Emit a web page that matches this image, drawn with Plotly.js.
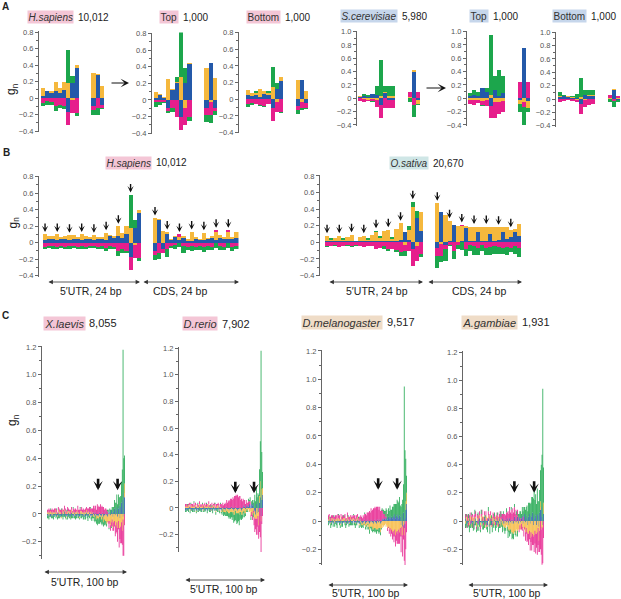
<!DOCTYPE html>
<html><head><meta charset="utf-8">
<script src="https://cdn.plot.ly/plotly-3.0.1.min.js"></script>
<style>html,body{margin:0;padding:0;background:#fff}#plot{width:621px;height:599px}</style>
</head><body><div id="plot"></div>
<script>
// ---------- DATA (g_n values in hundredths; C=blue, G=yellow, T=magenta, A=green) ----------
// Panel B, H.sapiens: 5'UTR positions -24..-1, CDS positions +4..+24
const hsUtrPos = [-24,-23,-22,-21,-20,-19,-18,-17,-16,-15,-14,-13,-12,-11,-10,-9,-8,-7,-6,-5,-4,-3,-2,-1];
const hsUtrC = [3,4,4,3,4,4,3,5,4,3,4,4,3,4,4, 3,8,6,8,6,10,-17,18,36];
const hsUtrG = [7,4,4,7,3,4,6,4,3,7,4,3,6,3,3, 9,1,2,12,6,10,18,-3,4];
const hsUtrT = [-5,-4,-4,-5,-4,-5,-4,-4,-5,-4,-5,-4,-4,-5,-4, -6,-4,-5,-10,-8,-10,-16,-15,-18];
const hsUtrA = [-3,-3,-4,-3,-3,-3,-4,-3,-3,-4,-3,-3,-3,-3,-4, -4,-4,-3,-6,-4,-3,40,9,-4];
const cdsPos = [4,5,6,7,8,9,10,11,12,13,14,15,16,17,18,19,20,21,22,23,24];
const hsCdsC = [-10,28,-8,10,3,7,3,6,2,2,5,3,3,4,6,3,6,5,4,5,6];
const hsCdsG = [30,1,14,3,2,1,4,2,2,11,2,1,9,2,2,10,3,2,9,2,7];
const hsCdsT = [-5,-12,-4,-8,-4,-3,3,-4,-5,-4,-5,-4,-5,-4,-5,2,-4,-5,2,-5,-4];
const hsCdsA = [-6,-8,-1,-9,-3,-5,-5,-8,-4,-6,-4,-5,-6,-5,-4,-6,-5,-4,-6,-5,-4];
// Panel B, O.sativa
const osUtrC = [2,1,1,1,1,1,1,2,1,1,1,1,1,2,1,1,2,2,3,12,3,-8,29,14];
const osUtrG = [6,2,4,6,2,5,8,0,5,6,2,8,11,3,13,14,2,14,20,-3,12,42,-4,22];
const osUtrT = [-5,-4,-3,-6,-4,-3,-5,-3,-4,-6,-5,-4,-8,-7,-5,-8,-8,-9,-12,-8,-10,-20,-18,-14];
const osUtrA = [-1,2,-1,1,2,-1,-1,-1,-1,1,2,-1,2,2,-3,-2,2,-3,-5,-5,5,7,9,-4];
const osCdsC = [-7,37,-3,2,21,0,2,17,1,2,12,1,2,10,1,3,13,4,6,12,7];
const osCdsG = [47,-2,33,24,0,20,18,3,17,17,7,18,17,8,17,15,6,15,9,4,15];
const osCdsT = [-9,-14,-5,-3,-10,-3,1,-8,-3,-5,-7,-3,-7,-6,-4,-6,-7,-6,-7,-5,-7];
const osCdsA = [-15,-8,-15,-1,-10,-5,-9,-8,-7,-10,-8,-8,-8,-9,-10,-8,-7,-9,-5,-9,-11];
// Panel A positions: -9..-1, +4..+6
const aPos = [-9,-8,-7,-6,-5,-4,-3,-2,-1,4,5,6];
const hsTopC = [2,6,2,-10,12,20,-20,20,43,-10,45,-10];
const hsTopG = [8,1,1,25,1,2,28,-10,2,39,-3,27];
const hsTopT = [-3,-2,-2,-3,-10,-20,-16,-20,-20,-8,-15,-3];
const hsTopA = [-5,-4,-2,-3,-5,6,59,18,-5,-8,-10,-5];
const hsBotC = [5,4,5,3,6,5,-10,12,22,-8,23,-5];
const hsBotG = [6,3,3,9,4,2,15,-3,5,23,-3,10];
const hsBotT = [-6,-5,-6,-7,-8,-6,-16,-12,-15,-5,-7,-5];
const hsBotA = [-3,-2,2,-1,-1,3,24,8,-2,-5,-3,-2];
const scC = [2,3,2,6,5,-10,8,-2,-2,0,40,-3];
const scG = [1,-1,-2,-1,-3,4,2,3,3,2,2,-5];
const scT = [-4,-5,-2,-3,-10,-20,-14,-13,-13,8,-10,9];
const scA = [1,4,3,-1,13,54,8,15,15,-6,-18,-2];
const scTopC = [3,5,4,15,10,-12,12,4,8,-3,76,-4];
const scTopG = [-3,-3,-2,-4,-3,5,-6,-5,-4,-5,-5,-10];
const scTopT = [-5,-7,-5,-6,-8,-18,-24,-18,-16,25,-8,25];
const scTopA = [5,7,6,-2,6,90,22,38,25,-12,-27,-6];
const scBotC = [3,4,3,2,2,-8,6,4,5,0,14,-2];
const scBotG = [1,0,1,1,-1,3,-2,2,1,2,1,1];
const scBotT = [-5,-3,-2,-3,-4,-14,-10,-9,-8,4,-3,4];
const scBotA = [6,2,1,1,6,29,7,7,7,-4,-9,-3];
// Panel C: 5'UTR positions -100..-1
const xlC = [-1,-2,1,-1,-2,-1,1,-2,-1,-1, 1,-1,-2,-1,1,-2,-1,-1,-2,1, -1,-1,2,-1,-2,-1,-1,1,-2,-1, -2,1,-1,-1,-2,1,-1,-2,-1,1, -1,-2,-1,1,-1,-1,-2,1,-1,-2, 1,-1,-2,-1,1,-1,-2,-1,-1,1, -1,-2,1,-1,-1,-2,-1,1,-1,-2, -1,1,-2,-1,-1,2,-1,-2,1,-1, 2,-1,3,1,-2,2,4,-1,3,5, -2,4,6,-3,5,8,10,-2,15,12];
const xlG = [1,2,-1,1,2,1,-1,2,1,1, 2,1,1,-1,2,1,2,1,-1,2, 1,2,1,2,-1,1,2,1,2,1, -1,2,1,1,2,-1,1,2,1,2, 1,-1,2,1,2,1,1,-1,2,1, 2,1,1,2,-1,1,2,-1,1,-2, -1,-2,-1,-3,-2,-1,-3,-2,-1,-2, -3,-2,-4,-3,-4,-5,-6,-4,-5,-6, -5,-7,-6,-4,-8,-6,-5,-7,-9,-6, -8,-5,-10,-7,-9,-6,-12,-2,-8,10];
const xlT = [2,1,3,2,1,2,3,1,2,3, 1,3,2,1,2,3,1,2,3,1, 2,1,3,2,2,1,3,2,1,2, 3,2,1,3,2,2,3,1,2,3, 2,3,2,1,3,2,3,2,1,3, 2,3,3,2,4,3,2,4,3,5, 4,6,5,3,7,5,6,4,7,5, 6,4,5,3,4,2,3,2,-2,-3, -2,-4,-3,-5,-2,-6,-4,-8,-5,-7, -10,-6,-14,-8,-12,-15,-10,-26,-22,-8];
const xlA = [-2,-1,-3,-1,1,-2,-2,-1,-3,-1, -1,-2,1,-2,-3,-1,-2,-1,1,-2, -3,-1,-2,-2,-1,1,-3,-2,-1,-2, -1,-3,-2,1,-1,-2,-3,-1,-2,-1, -2,-1,1,-3,-2,-1,-2,-3,-1,-2, -1,-2,-3,-1,-2,1,-2,-3,-2,-1, -3,-2,-4,-3,-5,-4,-3,-5,-4,-3, -4,-5,-3,-4,-2,-3,-2,1,2,-1, 2,3,-1,4,5,3,6,8,5,9, 7,10,6,12,8,15,22,118,25,20];
const drC = [-2,-1,-1,-2,-1,1,-1,-2,-1,-1, -2,-1,-1,1,-2,-1,-1,-2,1,-1, -1,-2,-1,-1,1,-2,-1,-1,-2,-1, 1,-1,-2,-1,-1,-2,1,-1,-1,-2, -1,-1,1,-2,-1,-1,-2,-1,1,-1, -1,-2,-1,1,-1,-1,-2,-1,-1,1, -1,-1,-2,-1,1,-1,-1,-2,-1,-1, 1,-1,-2,-1,1,2,1,-1,2,1, 2,1,3,2,-1,3,2,4,-3,-2, -5,3,-4,5,-3,4,8,-6,6,10];
const drG = [1,2,1,1,2,1,-1,1,2,1, 1,2,1,1,-1,2,1,1,2,1, 1,1,2,-1,1,2,1,1,2,1, 2,1,1,-1,2,1,1,2,1,-1, 1,2,1,1,-1,1,-1,-2,-1,-2, -2,-1,-3,-2,-2,-3,-2,-3,-2,-3, -3,-2,-3,-4,-2,-3,-3,-2,-3,-4, -3,-2,-3,-4,-3,-2,-4,-3,-2,-1, -2,-1,-3,-2,-4,-3,-5,-2,-4,-6, -3,-8,-4,-6,-10,5,12,-4,8,5];
const drT = [2,1,2,1,1,2,1,2,1,2, 1,2,1,2,1,1,2,1,2,1, 2,1,1,2,1,2,1,2,1,1, 2,1,2,1,2,1,1,2,2,1, 2,1,2,2,1,2,3,2,3,2, 3,4,3,5,4,5,6,5,7,6, 6,8,7,9,8,10,9,10,8,9, 8,6,7,5,6,4,5,3,4,3, 2,4,2,3,-2,-3,-4,-2,-6,-10, -8,-12,-6,-14,-10,-18,-22,-28,-12,-6];
const drA = [-1,-2,-1,1,-2,-1,-2,1,-1,-2, -1,1,-2,-1,-1,-2,1,-1,-2,-1, -2,-1,1,-1,-2,-1,-1,1,-2,-1, -1,-2,-1,1,-1,-2,-1,-1,1,-2, -1,-2,-1,-1,-2,1,-1,-2,-2,-3, -2,-3,-2,-4,-3,-3,-4,-3,-5,-4, -5,-4,-6,-5,-7,-6,-8,-7,-6,-8, -6,-5,-4,-3,-4,-2,-3,-2,-1,-2, -1,2,1,3,-2,2,4,-3,6,10, 5,12,8,6,10,20,30,118,28,12];
const dmC = [-1,1,-2,-1,-1,1,-2,-1,1,-1, -1,-2,1,-1,-1,-2,1,-1,-2,-1, 1,-1,-1,-2,1,-1,-2,-1,1,-1, -2,-1,1,-1,-1,-2,-1,1,-1,-2, -1,1,-1,-2,-1,-1,1,-2,-1,-1, 1,-1,-2,-1,1,-1,-1,-2,1,-1, -1,-2,1,-1,-1,1,-2,-1,1,2, 1,2,1,3,2,1,3,2,4,2, 3,2,4,3,5,2,4,3,5,2, 4,3,-3,5,-4,6,-5,2,8,12];
const dmG = [1,2,1,-1,2,1,1,2,-1,1, 2,1,1,2,1,-1,2,1,1,2, 1,2,-1,1,2,1,1,-1,2,1, 1,2,1,1,-1,2,1,2,1,-1, 1,-1,-2,-1,-2,-1,-3,-2,-2,-3, -2,-3,-4,-3,-4,-3,-5,-4,-5,-4, -5,-4,-6,-5,-4,-5,-6,-4,-5,-3, -4,-3,-2,-4,-3,-5,-4,-6,-5,-7, -6,-8,-7,-9,-6,-10,-8,-7,-9,-6, -8,-5,-7,-4,-6,-3,-5,-2,6,8];
const dmT = [3,2,1,3,2,2,3,1,2,3, 2,1,3,2,3,1,2,2,3,1, 2,3,2,1,3,2,2,3,1,2, 3,1,2,3,2,2,3,2,1,3, 2,3,3,2,4,3,4,5,4,6, 5,6,7,6,8,7,8,9,8,10, 9,10,9,10,8,9,7,8,6,5, 4,3,2,3,1,-2,-1,-3,-2,-4, -3,-5,-4,-6,-5,-8,-6,-9,-7,-10, -8,-6,-12,-7,-15,-10,-18,-32,-20,-8];
const dmA = [-2,-1,1,-3,-2,-1,-2,1,-3,-1, -2,-3,-1,1,-2,-2,-1,-3,-2,1, -1,-2,-3,-1,-2,1,-2,-1,-3,-2, -1,-2,1,-2,-3,-1,-2,-1,1,-2, -1,-3,-2,-1,-2,-1,1,-2,-1,-2, -1,-2,-3,-1,-2,-3,-2,-1,-3,-2, -2,-3,-1,-2,-4,-3,-2,-1,2,1, 3,2,4,3,5,4,6,5,7,6, 5,8,6,9,7,10,8,12,9,11, 13,8,10,7,15,20,95,48,30,12];
const agC = [2,-3,1,-2,-1,2,-3,1,-2,-1, -2,1,-3,2,-1,-2,1,-3,2,-1, -1,2,-2,-1,3,-2,1,-1,-3,2, 1,-2,2,-3,-1,2,-2,1,-1,-3, 2,-1,-2,2,-3,1,-1,2,-2,1, -2,1,-1,2,-1,-3,2,-1,1,-2, 1,-2,3,-1,2,-1,3,-2,2,3, -1,2,4,-2,3,5,-1,4,2,-3, 3,5,-2,4,3,6,-3,5,2,4, -3,5,4,-4,6,8,10,3,-3,5];
const agG = [-2,3,2,-1,2,-3,3,2,-2,3, 2,-2,3,1,-3,2,3,-1,2,-2, 3,2,-2,3,1,-3,2,3,-1,2, -2,3,2,-1,3,-2,2,-3,3,1, 2,-3,3,-2,2,-4,1,-3,-2,-4, -3,-5,-2,-4,-6,-3,-7,-5,-8,-6, -9,-7,-8,-6,-9,-5,-7,-4,-6,-3, -5,-2,-4,-3,-6,-4,-7,-5,-8,-6, -9,-7,-10,-8,-11,-9,-8,-10,-7,-9, -6,-8,-5,-10,-7,6,-6,-4,-2,8];
const agT = [3,-2,2,4,-3,2,3,-2,4,2, -3,3,2,4,-2,3,-2,4,3,-3, 2,4,3,-2,3,2,4,-3,2,3, 4,-2,3,2,-3,4,3,2,-2,3, 2,4,-2,3,5,2,4,3,5,4, 5,3,6,4,7,5,8,6,7,5, 8,6,7,5,6,4,5,3,-2,-3, 2,-4,-3,3,-5,-2,-6,-4,-7,-5, -8,-6,-9,-7,-10,-8,-6,-12,-9,-14, -10,-16,-12,-8,-15,-20,-18,-40,-25,-12];
const agA = [-3,2,-4,-2,3,-5,-2,-3,2,-4, -2,-4,3,-3,-2,-5,2,-3,-4,-2, 3,-4,-2,-3,-5,2,-3,-2,-4,3, -2,-5,-3,2,-4,-2,-3,3,-4,-2, -3,2,-4,-3,-2,4,-3,-5,2,-3, -4,-2,3,-3,-5,-2,-4,-3,2,-5, -3,-4,2,-3,-2,3,-4,2,3,4, 5,3,6,4,7,5,8,6,9,7, 10,8,12,9,14,11,16,20,13,15, 12,18,10,14,16,22,30,44,94,25];
// arrows (positions) and tick labels
const bUtrArrows = [-24,-21,-18,-15,-12,-9,-6,-3];
const bCdsArrows = [4,7,10,13,16,19,22];
const xlArrows = [-35,-10], drArrows = [-36,-12], dmArrows = [-37,-13], agArrows = [-38,-13];
const cArrowTips = [0.17, 0.11, 0.22, 0.2];
const ticksHs = ['−0.4','−0.2','0','0.2','0.4','0.6','0.8'];
const ticksSc = ['−0.4','−0.2','0','0.2','0.4','0.6','0.8','1.0'];
const ticksC = ['−0.2','0','0.2','0.4','0.6','0.8','1.0','1.2'];

// ---------- BUILD ----------
const W = 621, H = 599;
const COLORS = ['#2459a9', '#f5b83d', '#e61e8c', '#1ca64c']; // C G T A
const FONT = 'Liberation Sans, Arial, sans-serif';
const traces = [];
const layout = {width: W, height: H, margin: {l: 0, r: 0, t: 0, b: 0}, barmode: 'relative', bargap: 0,
  showlegend: false, paper_bgcolor: '#fff', plot_bgcolor: 'rgba(0,0,0,0)',
  font: {family: FONT, color: '#222'}, annotations: [], hovermode: false};
let n = 0;
const px = v => v / W, py = v => 1 - v / H;
const toX = p => (p < 0 ? p : p - 1);

function panel(g, pos, arrs, ticks) {
  n++;
  const s = n === 1 ? '' : String(n);
  const xs = pos.map(toX);
  const x0 = xs[0], x1 = xs[xs.length - 1];
  const w = (g.barR - g.barL) / (x1 - x0 + 1);
  layout['xaxis' + s] = {domain: [px(g.ax), px(g.barR)], range: [x0 - 0.5 - (g.barL - g.ax) / w, x1 + 0.5],
    anchor: 'y' + s, visible: false, fixedrange: true};
  const tv = ticks.map(t => parseFloat(t.replace('−', '-')));
  layout['yaxis' + s] = {domain: [py(g.zero - g.lo * g.sc), py(g.zero - g.hi * g.sc)], range: [g.lo, g.hi],
    anchor: 'x' + s, showline: true, linecolor: '#666', linewidth: 1, ticks: 'outside', ticklen: 3,
    tickwidth: 1, tickcolor: '#666', tickmode: 'array', tickvals: tv, ticktext: ticks,
    tickfont: {size: 7.5, color: '#555', family: FONT},
    minor: {tickmode: 'linear', tick0: 0, dtick: 0.1, ticks: 'outside', ticklen: 2, tickcolor: '#666'},
    showgrid: false, zeroline: false, fixedrange: true};
  arrs.forEach((a, k) => traces.push({type: 'bar', x: xs, y: a.map(v => v / 100), xaxis: 'x' + s, yaxis: 'y' + s,
    marker: {color: COLORS[k], line: {width: 0}}, cliponaxis: false, hoverinfo: 'skip'}));
  return {s, xs, pos, arrs};
}

// Panel A
const hsA = [hsUtrC, hsUtrG, hsUtrT, hsUtrA].map((u, k) => u.slice(15).concat([hsCdsC, hsCdsG, hsCdsT, hsCdsA][k].slice(0, 3)));
panel({ax: 39, barL: 41, barR: 104, zero: 98, sc: 82.5, lo: -0.41, hi: 0.81}, aPos, hsA, ticksHs);
panel({ax: 152, barL: 153.5, barR: 217, zero: 100, sc: 83.3, lo: -0.41, hi: 0.81}, aPos, [hsTopC, hsTopG, hsTopT, hsTopA], ticksHs);
panel({ax: 239, barL: 245.5, barR: 308, zero: 99.3, sc: 83.3, lo: -0.41, hi: 0.81}, aPos, [hsBotC, hsBotG, hsBotT, hsBotA], ticksHs);
panel({ax: 357, barL: 358, barR: 420, zero: 98.3, sc: 66.7, lo: -0.42, hi: 1.01}, aPos, [scC, scG, scT, scA], ticksSc);
panel({ax: 467, barL: 468, barR: 530, zero: 98.3, sc: 66.7, lo: -0.42, hi: 1.01}, aPos, [scTopC, scTopG, scTopT, scTopA], ticksSc);
panel({ax: 556, barL: 558, barR: 620, zero: 99, sc: 66.7, lo: -0.42, hi: 1.01}, aPos, [scBotC, scBotG, scBotT, scBotA], ticksSc);

// Panel B
const bPos = hsUtrPos.concat(cdsPos);
const hsB = panel({ax: 39, barL: 43, barR: 238.5, zero: 242.7, sc: 82.5, lo: -0.41, hi: 0.81}, bPos,
  [hsUtrC.concat(hsCdsC), hsUtrG.concat(hsCdsG), hsUtrT.concat(hsCdsT), hsUtrA.concat(hsCdsA)], ticksHs);
const osB = panel({ax: 320, barL: 325, barR: 521, zero: 242.3, sc: 83, lo: -0.41, hi: 0.81}, bPos,
  [osUtrC.concat(osCdsC), osUtrG.concat(osCdsG), osUtrT.concat(osCdsT), osUtrA.concat(osCdsA)], ticksHs);

// Panel C
const cPos = [];
for (let p = -100; p <= -1; p++) cPos.push(p);
const cPanels = [
  panel({ax: 42, barL: 47, barR: 125, zero: 514, sc: 139.2, lo: -0.32, hi: 1.21}, cPos, [xlC, xlG, xlT, xlA], ticksC),
  panel({ax: 179, barL: 185, barR: 263, zero: 508, sc: 133.3, lo: -0.33, hi: 1.21}, cPos, [drC, drG, drT, drA], ticksC),
  panel({ax: 322, barL: 328, barR: 407, zero: 521, sc: 141.7, lo: -0.31, hi: 1.21}, cPos, [dmC, dmG, dmT, dmA], ticksC),
  panel({ax: 463, barL: 465, barR: 544, zero: 521, sc: 140.8, lo: -0.31, hi: 1.21}, cPos, [agC, agG, agT, agA], ticksC)
];

// ---------- ANNOTATIONS ----------
const ann = layout.annotations;
function txt(x, y, text, size, opts) {
  ann.push(Object.assign({xref: 'paper', yref: 'paper', x: px(x), y: py(y), text: text, showarrow: false,
    xanchor: 'center', yanchor: 'middle', font: {size: size, color: '#222', family: FONT}}, opts || {}));
}
function title(boxR, y, name, count, bg, ital, size) {
  txt(boxR, y, ital ? '<i>' + name + '</i>' : name, size, {xanchor: 'right', bgcolor: bg, borderpad: 0.5, font: {size: size, color: '#333', family: FONT}});
  txt(boxR + 1.5, y, count, size, {xanchor: 'left'});
}
const PINK = '#f4c6d6', BLUE = '#c6d6eb', TEAL = '#cfe6e6', TAN = '#efdcc7';
// panel letters
txt(5, 7, '<b>A</b>', 10); txt(6, 152, '<b>B</b>', 10); txt(5, 315, '<b>C</b>', 10);
// titles
title(74, 17, 'H.sapiens', '10,012', PINK, true, 10);
title(179, 17, 'Top', '1,000', PINK, false, 10);
title(281, 17, 'Bottom', '1,000', PINK, false, 10);
title(398, 16, 'S.cerevisiae', '5,980', BLUE, true, 10);
title(489, 16, 'Top', '1,000', BLUE, false, 10);
title(587, 16, 'Bottom', '1,000', BLUE, false, 10);
title(152, 162.5, 'H.sapiens', '10,012', PINK, true, 10);
title(429, 163, 'O.sativa', '20,670', TEAL, true, 10);
title(86, 323, 'X.laevis', '8,055', PINK, true, 11);
title(218, 324, 'D.rerio', '7,902', PINK, true, 11);
title(383, 322, 'D.melanogaster', '9,517', TAN, true, 11);
title(518, 322, 'A.gambiae', '1,931', TAN, true, 11);
// g_n labels
[[12, 89], [13.5, 223], [13, 420]].forEach(p => txt(p[0], p[1], 'g<sub>n</sub>', 12, {textangle: -90}));
// arrows between A panels
[[110, 129, 83], [425, 446, 88]].forEach(a => ann.push({xref: 'paper', yref: 'paper', x: px(a[1]), y: py(a[2]),
  ax: a[0] - a[1], ay: 0, text: '', showarrow: true, arrowhead: 3, arrowsize: 1.4, arrowwidth: 1, arrowcolor: '#111'}));
// B down arrows
function topAt(arrs, i) { return arrs.reduce((t, a) => t + Math.max(0, a[i]), 0) / 100; }
[hsB, osB].forEach(P => {
  bUtrArrows.concat(bCdsArrows).forEach(p => {
    const i = P.pos.indexOf(p);
    ann.push({xref: 'x' + P.s, yref: 'y' + P.s, x: P.xs[i], y: topAt(P.arrs, i) + 0.03, ax: 0, ay: -10, text: '',
      showarrow: true, arrowhead: 3, arrowsize: 0.75, arrowwidth: 1.4, arrowcolor: '#111'});
  });
});
// C down arrows
[xlArrows, drArrows, dmArrows, agArrows].forEach((arr, k) => {
  const P = cPanels[k];
  arr.forEach(p => ann.push({xref: 'x' + P.s, yref: 'y' + P.s, x: toX(p), y: cArrowTips[k], ax: 0, ay: -13, text: '',
    showarrow: true, arrowhead: 3, arrowsize: 0.6, arrowwidth: 2.6, arrowcolor: '#111'}));
});
// double-headed range arrows + labels
function span(x1, x2, y) {
  ann.push({xref: 'paper', yref: 'paper', x: px(x2), y: py(y), ax: x1 - x2, ay: 0, text: '', showarrow: true,
    arrowside: 'end+start', arrowhead: 2, startarrowhead: 2, arrowsize: 1.1, startarrowsize: 1.1, arrowwidth: 0.8, arrowcolor: '#333'});
}
span(47, 140, 282); span(142, 239, 282); span(328, 423, 282); span(427, 522, 282);
txt(91, 291, '5′UTR, 24 bp', 10.5); txt(180, 291, 'CDS, 24 bp', 10.5);
txt(377, 291, '5′UTR, 24 bp', 10.5); txt(479, 291, 'CDS, 24 bp', 10.5);
span(43, 127, 572); span(184, 265, 580); span(327, 408, 585); span(467, 548, 585);
txt(84, 582, '5′UTR, 100 bp', 10.5); txt(223, 589, '5′UTR, 100 bp', 10.5);
txt(366, 593, '5′UTR, 100 bp', 10.5); txt(506, 593, '5′UTR, 100 bp', 10.5);

function smoothThinBars() {
  cPanels.forEach(P => {
    const id = 'x' + P.s + 'y' + P.s;
    document.querySelectorAll('.subplot.' + id + ' .barlayer path').forEach(el =>
      el.style.setProperty('shape-rendering', 'geometricPrecision', 'important'));
  });
}
Plotly.newPlot('plot', traces, layout, {staticPlot: true, displayModeBar: false}).then(smoothThinBars);
</script></body></html>
